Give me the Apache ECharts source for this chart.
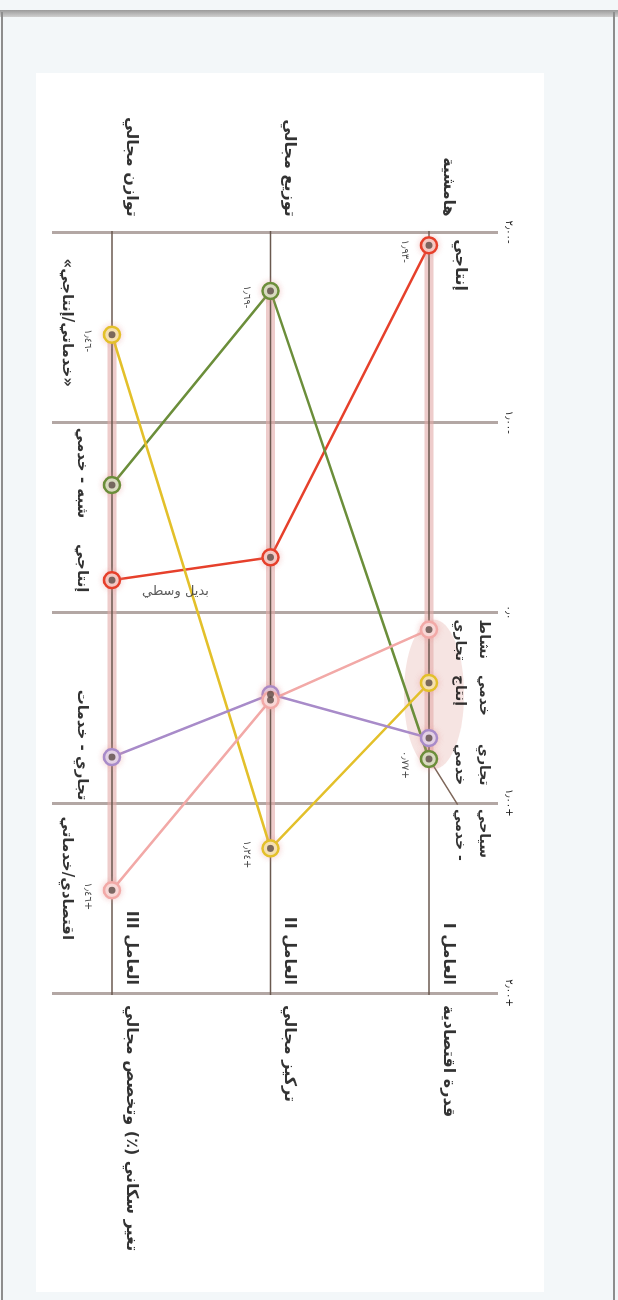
<!DOCTYPE html>
<html lang="ar">
<head>
<meta charset="utf-8">
<title>factors</title>
<script src="https://cdn.jsdelivr.net/npm/echarts@6/dist/echarts.min.js"></script>
<style>
  html, body { margin: 0; padding: 0; }
  body { width: 618px; height: 1300px; position: relative; overflow: hidden; background: #f3f7f9; }
  .frame-top { position: absolute; left: 0; top: 10px; width: 618px; height: 7px; background: linear-gradient(#9b9b9b, #cfcfcf); }
  .frame-left { position: absolute; left: 1px; top: 12px; width: 2px; height: 1288px; background: #8d8d8d; }
  .frame-right { position: absolute; left: 613px; top: 12px; width: 2px; height: 1288px; background: #8d8d8d; }
  .paper { position: absolute; left: 36px; top: 73px; width: 508px; height: 1219px; background: #fff; }
  #chart { position: absolute; left: 0; top: 0; width: 1300px; height: 618px;
           transform-origin: 0 0; transform: translate(618px, 0) rotate(90deg); }
</style>
</head>
<body>
<div class="frame-top"></div>
<div class="frame-left"></div>
<div class="frame-right"></div>
<div class="paper"></div>
<div id="chart" dir="rtl"></div>
<script>
// المحاور (العوامل) و أقطابها
const factors = ['العامل I', 'العامل II', 'العامل III'];
const negPoles = ['هامشية', 'توزيع مجالي', 'توازن مجالي'];
const posPoles = ['قدرة اقتصادية', 'تركيز مجالي', 'تغير سكاني (٪) وتخصص مجالي'];
const tickValues = [-2, -1, 0, 1, 2];
const tickLabels = ['-٢٫٠٠', '-١٫٠٠', '٠٫٠', '+١٫٠٠', '+٢٫٠٠'];

// قيم كل صنف على العوامل I و II و III
const scoresRed = [-1.93, -0.29, -0.17];
const scoresGreen = [0.77, -1.69, -0.67];
const scoresYellow = [0.37, 1.24, -1.46];
const scoresPurple = [0.66, 0.43, 0.76];
const scoresPink = [0.09, 0.46, 1.46];

// أسماء الأصناف قرب النقاط
const namesI = ['إنتاجي', 'سياحي\n- خدمي', 'خدمي\nإنتاج', 'تجاري\nخدمي', 'نشاط\nتجاري'];
const namesIII = ['إنتاجي', 'شبه - خدمي', '«خدماتي/إنتاجي»', 'تجاري - خدمات', 'اقتصادي/خدماتي'];
const middleNote = 'بديل وسطي';

const allScores = [scoresRed, scoresGreen, scoresYellow, scoresPurple, scoresPink];
const colors = ['#e6402b', '#6b8e3a', '#e3c02a', '#a88bc9', '#f2a9a7'];
const tints = ['#f6cfc9', '#d7e3c6', '#f7eab4', '#e3d9ef', '#fbe0df'];
const FONT = 'DejaVu Sans';

const toArabic = (v, digits) => {
  const s = Math.abs(v).toFixed(digits).replace('.', '٫')
    .replace(/[0-9]/g, (d) => String.fromCharCode(0x0660 + Number(d)));
  return (v < 0 ? '-' : v > 0 ? '+' : '') + s;
};

const series = [];

// خطوط العوامل مع الشريط الوردي بين أصغر و أكبر قيمة
factors.forEach((f, i) => {
  const vals = allScores.map((s) => s[i]);
  series.push({
    type: 'line', silent: true, symbol: 'none', clip: false, z: 1,
    lineStyle: { color: 'rgba(226,170,168,0.6)', width: 9 },
    data: [[Math.min(...vals), i + 1], [Math.max(...vals), i + 1]],
  });
  series.push({
    type: 'line', silent: true, symbol: 'none', clip: false, z: 2,
    lineStyle: { color: '#6a594f', width: 1.5 },
    data: [[-2.07, i + 1], [2.24, i + 1]],
  });
});

// خط الإشارة لاسم الصنف الأخضر
series.push({
  type: 'line', silent: true, symbol: 'none', clip: false, z: 2,
  lineStyle: { color: '#7d6659', width: 1.5 },
  data: [[scoresGreen[0], 1], [scoresGreen[0] + 0.24, 0.82]],
});

// الأصناف
allScores.forEach((s, k) => {
  series.push({
    type: 'line', clip: false, z: 3,
    symbol: 'circle', symbolSize: 16,
    itemStyle: {
      color: tints[k], borderColor: colors[k], borderWidth: 2.5,
      shadowBlur: 6, shadowColor: 'rgba(230,150,150,0.45)',
    },
    lineStyle: { color: colors[k], width: 2.5 },
    data: s.map((v, i) => [v, i + 1]),
  });
});

// النقاط الداكنة في المراكز
series.push({
  type: 'scatter', silent: true, z: 5, symbolSize: 7,
  itemStyle: { color: '#5d4a45' },
  data: allScores.flatMap((s) => s.map((v, i) => [v, i + 1])),
});

// النصوص
const texts = [];
const txt = (value, text, label) => texts.push({
  value,
  label: Object.assign({
    show: true, formatter: text, position: 'inside',
    fontFamily: FONT, fontSize: 16, fontWeight: 'bold', color: '#000',
  }, label),
});

factors.forEach((f, i) => {
  txt([-2.07, i + 1], negPoles[i], { align: 'right', verticalAlign: 'middle', offset: [-2, -19] });
  txt([2, i + 1], f, { align: 'right', verticalAlign: 'middle', offset: [-8, -19] });
  txt([2, i + 1], posPoles[i], { align: 'left', verticalAlign: 'middle', offset: [12, -19] });

  // القيم القصوى لكل عامل
  const vals = allScores.map((s) => s[i]);
  [Math.min(...vals), Math.max(...vals)].forEach((v) => {
    txt([v, i + 1], toArabic(v, 2), {
      align: 'center', verticalAlign: 'middle', offset: [6, 24],
      fontSize: 10, fontWeight: 'normal', color: '#222',
    });
  });
});

const shiftI = [-6, 50, -8, 6, -10];
allScores.forEach((s, k) => {
  txt([s[0], 1], namesI[k], {
    align: 'left', verticalAlign: 'bottom', lineHeight: 24,
    fontSize: k === 0 ? 16 : 14,
    offset: [shiftI[k], -19],
  });
  const vals3 = allScores.map((a) => a[2]);
  const extreme = s[2] === Math.min(...vals3) || s[2] === Math.max(...vals3);
  txt([s[2], 3], namesIII[k], {
    align: 'center', verticalAlign: 'top', offset: [-12, extreme ? 38 : 23],
    fontSize: 15,
  });
});

txt([scoresRed[2] + 0.06, 2.6], middleNote, {
  align: 'center', verticalAlign: 'middle', rotate: 90,
  fontSize: 13, fontWeight: 'normal', color: '#333',
});

series.push({
  type: 'scatter', silent: true, clip: false, z: 6, symbolSize: 1,
  itemStyle: { color: 'rgba(0,0,0,0)' },
  data: texts,
});

const chart = echarts.init(document.getElementById('chart'), null, { renderer: 'canvas' });
chart.setOption({
  animation: false,
  backgroundColor: 'transparent',
  grid: { left: 232, right: 307, top: 120, bottom: 52 },
  xAxis: {
    type: 'value', min: -2, max: 2, interval: 1, position: 'top',
    axisLine: { show: false }, axisTick: { show: false },
    axisLabel: {
      margin: 6, fontSize: 10, color: '#222', fontFamily: FONT,
      formatter: (v) => tickLabels[tickValues.indexOf(v)] || '',
    },
    splitLine: { show: true, lineStyle: { color: '#b3a7a4', width: 3 } },
  },
  yAxis: { type: 'value', inverse: true, min: 0.565, max: 3.379, show: false },
  series,
});

// الإهليلج حول مجموعة النقاط على العامل I
const cluster = allScores.slice(1).map((s) => s[0]);
const lo = chart.convertToPixel({ gridIndex: 0 }, [Math.min(...cluster), 1]);
const hi = chart.convertToPixel({ gridIndex: 0 }, [Math.max(...cluster), 1]);
chart.setOption({
  graphic: [{
    type: 'ellipse', silent: true, z: 0,
    shape: { cx: (lo[0] + hi[0]) / 2, cy: lo[1] - 5, rx: (hi[0] - lo[0]) / 2 + 10, ry: 30 },
    style: { fill: 'rgba(225,165,160,0.3)' },
  }],
});
</script>
</body>
</html>
